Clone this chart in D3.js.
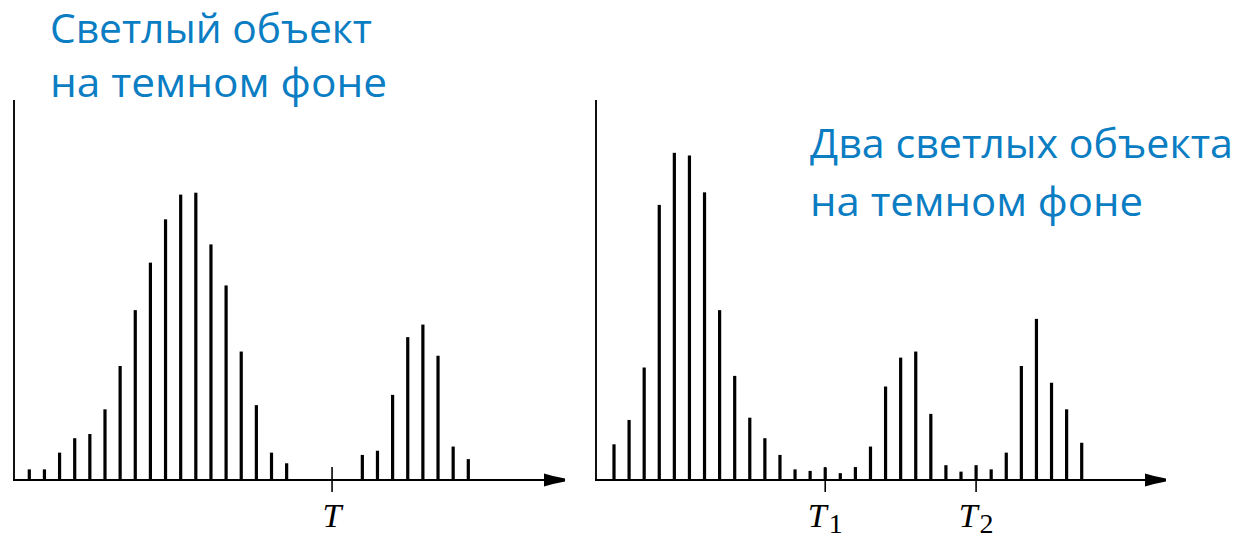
<!DOCTYPE html>
<html>
<head>
<meta charset="utf-8">
<script src="https://cdn.jsdelivr.net/npm/d3@7"></script>
<style>
  html, body { margin: 0; padding: 0; background: #ffffff; }
  svg { display: block; }
</style>
</head>
<body>
<svg id="chart" width="1240" height="538"></svg>
<script>
// ---- data ----
const leftBins = d3.range(30);
const leftValues = [2.8, 2.8, 7.2, 11, 12.1, 18.6, 30, 44.7, 57.2, 68.6, 75.1, 75.6, 62, 51.2, 33.8, 19.7, 7.2, 4.4,
                    0, 0, 0, 0,
                    6.6, 7.7, 22.4, 37.6, 40.9, 32.7, 8.8, 5.5];
const rightBins = d3.range(32);
const rightValues = [9.4, 15.8, 29.6, 72.4, 86.1, 85.4, 75.7, 44.7, 27.4, 16.4, 11, 6.6, 2.8, 2.4, 3.3, 1.8, 3.4,
                     8.8, 24.6, 32.2, 33.8, 17.4, 3.9, 2.2, 3.9, 2.8, 7.2, 30, 42.4, 25.6, 18.6, 9.8];
const leftThresholdBins = [20];
const leftThresholdMain = ["T"];
const leftThresholdSub = [""];
const rightThresholdBins = [14, 24];
const rightThresholdMain = ["T", "T"];
const rightThresholdSub = ["1", "2"];
const leftTitle = ["Светлый объект", "на темном фоне"];
const rightTitle = ["Два светлых объекта", "на темном фоне"];

// ---- drawing ----
const svg = d3.select("#chart");
const blue = "#0a7dc3";
const baseY = 480, topY = 100;
const serif = "'Liberation Serif', 'Times New Roman', Times, 'DejaVu Serif', serif";

function panel(cfg) {
  const g = svg.append("g");
  const x = d3.scaleLinear().domain([0, cfg.bins.length - 1]).range(cfg.xr);
  const y = d3.scaleLinear().domain([0, 100]).range([baseY, topY]);

  // bars
  g.selectAll("rect.bar")
    .data(cfg.bins.filter((d, i) => cfg.values[i] > 0))
    .join("rect")
    .attr("class", "bar")
    .attr("x", d => x(d) - 1.6)
    .attr("width", 3.2)
    .attr("y", d => y(cfg.values[d]))
    .attr("height", d => y(0) - y(cfg.values[d]))
    .attr("fill", "#000");

  // y axis
  g.append("line")
    .attr("x1", cfg.axisX).attr("x2", cfg.axisX)
    .attr("y1", y(100)).attr("y2", y(0) + 1)
    .attr("stroke", "#111").attr("stroke-width", 2);
  // x axis
  g.append("line")
    .attr("x1", cfg.axisX - 1).attr("x2", cfg.arrowEnd - 6)
    .attr("y1", y(0)).attr("y2", y(0))
    .attr("stroke", "#000").attr("stroke-width", 2);
  // arrow head
  const a = cfg.arrowEnd, b = y(0);
  g.append("path")
    .attr("d", `M${a - 21},${b - 6.5} L${a - 12},${b - 4} L${a},${b - 1.6} L${a},${b + 1.6} L${a - 12},${b + 4} L${a - 21},${b + 6.5} Z`)
    .attr("fill", "#000");

  // threshold ticks and labels
  cfg.tBins.forEach((t, i) => {
    const tx = x(t);
    g.append("line")
      .attr("x1", tx).attr("x2", tx)
      .attr("y1", y(0) - 13).attr("y2", y(0) + 12)
      .attr("stroke", "#000").attr("stroke-width", 1.6);
    const txt = g.append("text")
      .attr("x", tx).attr("y", 527)
      .attr("text-anchor", "middle")
      .attr("font-family", serif)
      .attr("font-style", "italic")
      .attr("font-size", 34)
      .attr("fill", "#000");
    txt.append("tspan").text(cfg.tMain[i]);
    if (cfg.tSub[i]) {
      txt.append("tspan").attr("dy", 6).attr("dx", 2)
        .attr("font-style", "normal").attr("font-size", 28).text(cfg.tSub[i]);
    }
  });

  // title
  cfg.title.forEach((line, i) => {
    svg.append("text")
      .attr("x", cfg.titleX).attr("y", cfg.titleY[i])
      .attr("font-family", "'Open Sans', 'Noto Sans', sans-serif")
      .attr("font-size", 40)
      .attr("fill", blue)
      .attr("textLength", cfg.titleW[i])
      .attr("lengthAdjust", "spacingAndGlyphs")
      .text(line);
  });
}

panel({
  bins: leftBins, values: leftValues, xr: [29.3, 468.3], axisX: 14, arrowEnd: 565,
  tBins: leftThresholdBins, tMain: leftThresholdMain, tSub: leftThresholdSub,
  title: leftTitle, titleX: 50, titleY: [43, 97], titleW: [322, 337]
});
panel({
  bins: rightBins, values: rightValues, xr: [614, 1081.7], axisX: 596, arrowEnd: 1166,
  tBins: rightThresholdBins, tMain: rightThresholdMain, tSub: rightThresholdSub,
  title: rightTitle, titleX: 810, titleY: [158, 216], titleW: [423, 333]
});
</script>
</body>
</html>
